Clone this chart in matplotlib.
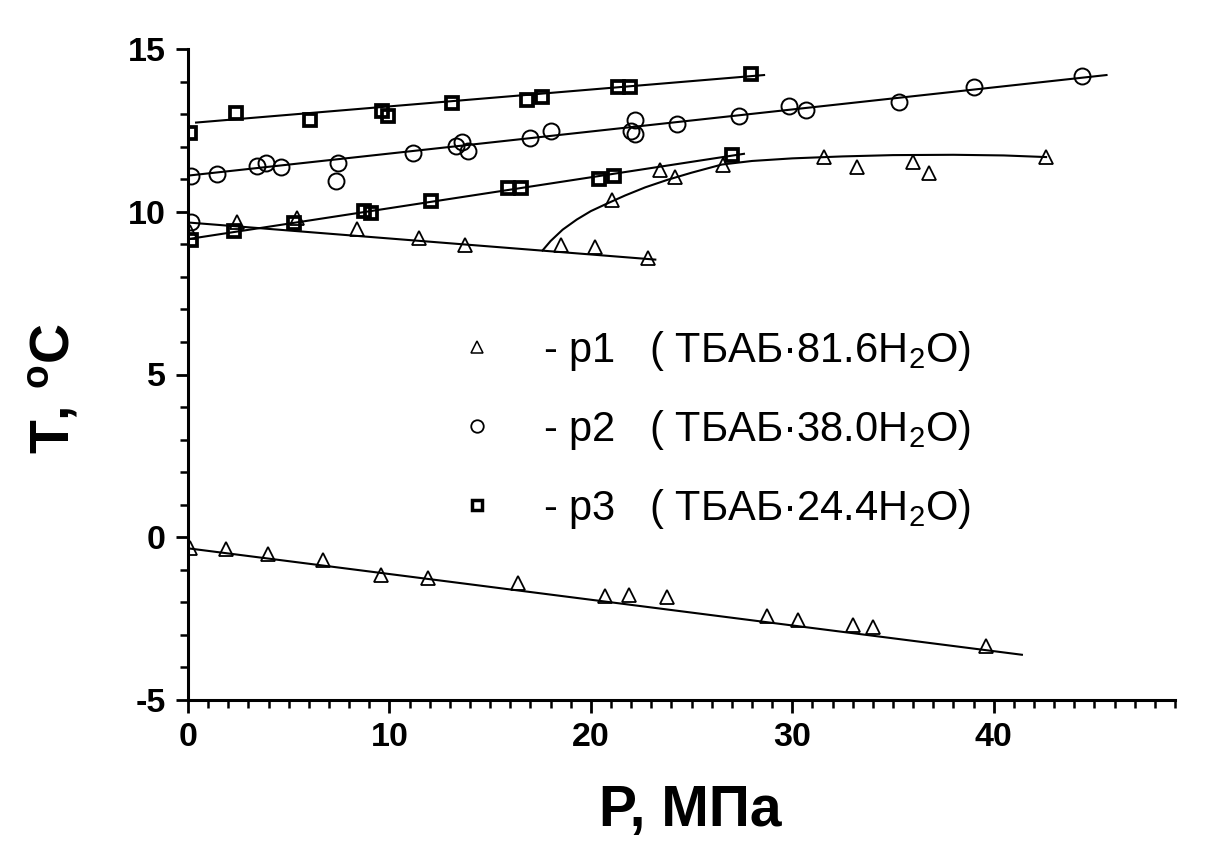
import matplotlib
matplotlib.use("Agg")
import matplotlib.pyplot as plt
from matplotlib.lines import Line2D
from matplotlib.ticker import MultipleLocator

# ---------------- data ----------------
# p1 (ТБАБ·81.6H2O) - triangles
p1_low_P = [0.1, 1.9, 3.95, 6.7, 9.6, 11.9, 16.4, 20.7, 21.9, 23.8, 28.75, 30.3, 33.0, 34.0, 39.6]
p1_low_T = [-0.32, -0.35, -0.50, -0.71, -1.17, -1.26, -1.42, -1.80, -1.78, -1.85, -2.41, -2.55, -2.70, -2.77, -3.33]
p1_mid_P = [0.1, 2.45, 5.4, 8.4, 11.45, 13.75, 18.5, 20.2, 22.85]
p1_mid_T = [9.38, 9.67, 9.81, 9.47, 9.19, 8.99, 8.99, 8.91, 8.58]
p1_high_P = [21.05, 23.45, 24.2, 26.55, 31.55, 33.2, 36.0, 36.8, 42.6]
p1_high_T = [10.37, 11.29, 11.08, 11.44, 11.68, 11.37, 11.52, 11.19, 11.68]

# p2 (ТБАБ·38.0H2O) - circles
p2_P = [0.15, 0.15, 1.45, 3.45, 3.85, 4.6, 7.45, 7.35, 11.15, 13.3, 13.6, 13.9,
        17.0, 18.0, 22.2, 22.0, 22.2, 24.3, 27.35, 29.85, 30.7, 35.3, 39.0, 44.4]
p2_T = [9.67, 11.11, 11.17, 11.41, 11.51, 11.37, 11.51, 10.93, 11.82, 12.02, 12.13, 11.88,
        12.28, 12.48, 12.82, 12.48, 12.38, 12.69, 12.94, 13.25, 13.12, 13.38, 13.82, 14.17]

# p3 (ТБАБ·24.4H2O) - squares
p3_low_P = [0.15, 2.3, 5.25, 8.75, 9.1, 12.05, 15.9, 16.55, 20.4, 21.15, 27.0]
p3_low_T = [9.14, 9.42, 9.65, 10.01, 9.96, 10.32, 10.73, 10.73, 11.01, 11.11, 11.73]
p3_high_P = [0.1, 2.4, 6.05, 9.65, 9.95, 13.1, 16.85, 17.55, 21.35, 21.95, 27.95]
p3_high_T = [12.41, 13.03, 12.82, 13.11, 12.95, 13.33, 13.44, 13.54, 13.82, 13.82, 14.22]

# fitted lines / curves as drawn in the picture
fit1_low_P = [0.0, 41.4]
fit1_low_T = [-0.34, -3.61]
fit1_mid_P = [0.0, 23.2]
fit1_mid_T = [9.67, 8.53]
fit1_high_P = [17.6, 18.0, 18.6, 19.3, 20.0, 20.8, 21.7, 22.7, 23.8, 25.0, 26.5, 28.0,
               30.0, 32.5, 35.0, 38.0, 40.5, 42.6]
fit1_high_T = [8.81, 9.10, 9.45, 9.76, 10.02, 10.25, 10.50, 10.75, 10.98, 11.20, 11.45, 11.56,
               11.64, 11.70, 11.74, 11.75, 11.73, 11.68]
fit2_P = [0.0, 45.6]
fit2_T = [11.11, 14.20]
fit3_low_P = [0.0, 27.6]
fit3_low_T = [9.16, 11.78]
fit3_high_P = [0.4, 28.6]
fit3_high_T = [12.74, 14.20]

legend_labels = [r'- p1   ( ТБАБ·81.6H$_2$O)',
                 r'- p2   ( ТБАБ·38.0H$_2$O)',
                 r'- p3   ( ТБАБ·24.4H$_2$O)']

# ---------------- style ----------------
plt.rcParams['font.family'] = ['Liberation Sans', 'DejaVu Sans']
plt.rcParams['mathtext.fontset'] = 'custom'
plt.rcParams['mathtext.rm'] = 'Liberation Sans'
plt.rcParams['mathtext.bf'] = 'Liberation Sans:bold'
plt.rcParams['mathtext.default'] = 'regular'
plt.rcParams['axes.unicode_minus'] = False

fig = plt.figure(figsize=(12.24, 8.66), dpi=100)
ax = fig.add_axes([188 / 1224, (866 - 700) / 866, (1175 - 188) / 1224, (700 - 49) / 866])

lw_fit = 1.5
for xs, ys in [(fit1_low_P, fit1_low_T), (fit1_mid_P, fit1_mid_T), (fit1_high_P, fit1_high_T),
               (fit2_P, fit2_T), (fit3_low_P, fit3_low_T), (fit3_high_P, fit3_high_T)]:
    ax.plot(xs, ys, color='black', lw=lw_fit, zorder=2)

tri = dict(marker='^', ms=10.5, mfc='none', mec='black', mew=1.3, ls='none', zorder=3)
cir = dict(marker='o', ms=11.5, mfc='none', mec='black', mew=1.4, ls='none', zorder=3)
sq = dict(marker='s', ms=9.0, mfc='none', mec='black', mew=2.7, ls='none', zorder=3)

ax.plot(p1_low_P, p1_low_T, **tri)
ax.plot(p1_mid_P, p1_mid_T, **tri)
ax.plot(p1_high_P, p1_high_T, **tri)
ax.plot(p2_P, p2_T, **cir)
ax.plot(p3_low_P, p3_low_T, **sq)
ax.plot(p3_high_P, p3_high_T, **sq)

ax.set_xlim(0, 49)
ax.set_ylim(-5, 15)
ax.xaxis.set_major_locator(MultipleLocator(10))
ax.xaxis.set_minor_locator(MultipleLocator(1))
ax.yaxis.set_major_locator(MultipleLocator(5))
ax.yaxis.set_minor_locator(MultipleLocator(1))

for s in ['top', 'right']:
    ax.spines[s].set_visible(False)
for s in ['left', 'bottom']:
    ax.spines[s].set_linewidth(2.2)

ax.tick_params(which='major', direction='out', length=9, width=2.0, pad=7)
ax.tick_params(which='minor', direction='out', length=5.5, width=1.8)
for lab in ax.get_xticklabels() + ax.get_yticklabels():
    lab.set_fontsize(24.5)
    lab.set_fontweight('bold')

ax.set_xlabel('P, МПа', fontsize=41, fontweight='bold')
ax.xaxis.set_label_coords((690 - 188) / 987, (700 - 784) / 651)
ax.set_ylabel(r'T, $^{o}$C', fontsize=40, fontweight='bold')
ax.yaxis.set_label_coords((82 - 188) / 987, (700 - 389) / 651)

handles = [Line2D([], [], marker='^', ms=9, mfc='none', mec='black', mew=1.1, ls='none'),
           Line2D([], [], marker='o', ms=9, mfc='none', mec='black', mew=1.3, ls='none'),
           Line2D([], [], marker='s', ms=7, mfc='none', mec='black', mew=2.5, ls='none')]
leg = ax.legend(handles, legend_labels, loc='upper left',
                bbox_to_anchor=(444 / 1224, 1 - 308 / 866), bbox_transform=fig.transFigure,
                frameon=False, fontsize=30, handlelength=0.6, handletextpad=1.27,
                labelspacing=0.84, borderpad=0)

fig.savefig('out.png', dpi=100)
